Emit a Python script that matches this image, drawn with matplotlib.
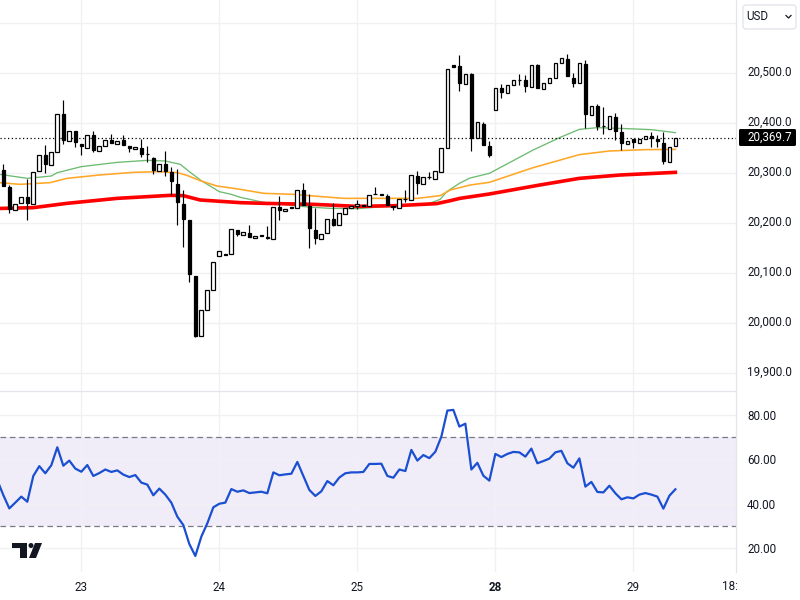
import matplotlib

matplotlib.use("Agg")

import matplotlib.pyplot as plt
import numpy as np
from matplotlib.patches import Circle, FancyBboxPatch, Polygon, Rectangle
from matplotlib.transforms import ScaledTranslation

INK = "#131722"
GRID = "#f0f1f4"
BORDER = "#e4e5ea"
BAND = "#f0edf9"
RSI_BLUE = "#1b4fd1"
LABEL_SIZE = 8.4

opens = [20305, 20272, 20226, 20240, 20251, 20238, 20304, 20335, 20316, 20342, 20417, 20364, 20383, 20357, 20350,
         20375, 20344, 20354, 20365, 20358, 20365, 20353, 20348, 20350, 20338, 20329, 20304, 20317, 20301, 20278,
         20238, 20205, 20094, 19974, 20026, 20066, 20134, 20138, 20138, 20186, 20176, 20180, 20170, 20175, 20172,
         20168, 20231, 20224, 20231, 20230, 20265, 20233, 20186, 20168, 20180, 20207, 20196, 20218, 20230, 20233,
         20235, 20234, 20257, 20257, 20254, 20231, 20230, 20248, 20246, 20293, 20278, 20292, 20288, 20302, 20350,
         20515, 20513, 20478, 20497, 20370, 20398, 20354, 20426, 20469, 20460, 20476, 20486, 20485, 20472, 20515,
         20468, 20480, 20490, 20520, 20527, 20489, 20479, 20517, 20416, 20433, 20394, 20388, 20412, 20381, 20358,
         20368, 20360, 20368, 20373, 20367, 20360, 20322, 20354]
highs = [20318, 20276, 20238, 20252, 20288, 20302, 20336, 20355, 20342, 20418, 20445, 20384, 20383, 20357, 20376,
         20383, 20354, 20366, 20377, 20364, 20375, 20353, 20352, 20367, 20353, 20332, 20318, 20343, 20312, 20307,
         20266, 20205, 20094, 20026, 20066, 20122, 20144, 20138, 20188, 20186, 20182, 20195, 20174, 20175, 20193,
         20232, 20253, 20228, 20231, 20266, 20280, 20257, 20229, 20178, 20208, 20240, 20220, 20230, 20234, 20246,
         20235, 20256, 20271, 20257, 20258, 20234, 20248, 20265, 20296, 20303, 20292, 20302, 20304, 20350, 20508,
         20515, 20535, 20498, 20500, 20402, 20402, 20363, 20470, 20477, 20476, 20486, 20498, 20495, 20516, 20518,
         20480, 20490, 20520, 20530, 20537, 20500, 20520, 20525, 20434, 20438, 20432, 20414, 20420, 20398, 20364,
         20368, 20368, 20374, 20382, 20375, 20382, 20352, 20370]
lows = [20273, 20220, 20226, 20240, 20205, 20238, 20304, 20300, 20316, 20342, 20357, 20364, 20352, 20335, 20350,
        20342, 20344, 20354, 20359, 20358, 20356, 20342, 20348, 20332, 20322, 20297, 20304, 20293, 20255, 20195,
        20152, 20082, 19972, 19974, 20026, 20066, 20134, 20136, 20138, 20173, 20176, 20172, 20170, 20174, 20168,
        20168, 20205, 20224, 20230, 20230, 20235, 20150, 20157, 20168, 20180, 20193, 20196, 20218, 20230, 20228,
        20234, 20234, 20257, 20256, 20235, 20225, 20230, 20242, 20246, 20257, 20278, 20288, 20288, 20302, 20350,
        20512, 20464, 20478, 20343, 20370, 20355, 20332, 20426, 20449, 20460, 20476, 20475, 20462, 20472, 20470,
        20468, 20480, 20490, 20520, 20494, 20472, 20479, 20390, 20416, 20385, 20377, 20388, 20365, 20345, 20358,
        20350, 20360, 20368, 20352, 20352, 20317, 20322, 20354]
closes = [20273, 20227, 20238, 20252, 20239, 20302, 20336, 20317, 20342, 20418, 20365, 20384, 20361, 20353, 20376,
          20345, 20354, 20366, 20359, 20364, 20356, 20350, 20352, 20337, 20337, 20305, 20318, 20304, 20284, 20242,
          20208, 20098, 19974, 20026, 20066, 20122, 20144, 20136, 20188, 20178, 20182, 20172, 20174, 20174, 20170,
          20232, 20225, 20228, 20230, 20266, 20235, 20190, 20170, 20178, 20208, 20196, 20220, 20230, 20234, 20237,
          20234, 20256, 20257, 20256, 20235, 20234, 20248, 20248, 20296, 20280, 20292, 20292, 20304, 20350, 20508,
          20512, 20480, 20498, 20370, 20402, 20355, 20335, 20470, 20461, 20476, 20486, 20486, 20474, 20516, 20470,
          20480, 20490, 20520, 20530, 20494, 20480, 20520, 20418, 20434, 20394, 20394, 20414, 20384, 20360, 20364,
          20362, 20368, 20374, 20370, 20364, 20324, 20352, 20369.7]

green_bars = [-1, 4, 8, 9, 13, 19, 24, 27, 29.5, 31, 33, 36, 38, 39.5, 43.4, 48.9, 51.7, 54.5, 59, 65.6, 71, 72.8,
              73.9, 76.1, 77.8, 81, 88.3, 92.8, 96, 99, 103.9, 108, 112]
green_ma = [20297, 20288.3, 20293, 20299.7, 20311.7, 20320.3, 20324.3, 20323, 20316.3, 20301.7, 20283.7, 20261.7,
            20256.3, 20250.3, 20240.3, 20233, 20230.3, 20228.3, 20227.7, 20233.7, 20238.3, 20246.3, 20261.7, 20279,
            20289, 20298.3, 20345, 20370.3, 20386.3, 20389.7, 20387.7, 20385.7, 20379.7]
orange_bars = [-1, 2.8, 7.8, 10.6, 16, 21.7, 25.6, 29, 30.6, 32.8, 35.6, 39.5, 43.4, 48.4, 51.7, 56.7, 65.6, 69, 72.8,
               74.5, 77.8, 81, 88.3, 96, 101, 107, 112]
orange_ma = [20280, 20276.3, 20279.7, 20288.3, 20295, 20300.3, 20301.7, 20299.7, 20294.3, 20283.7, 20273, 20266.3,
             20258.3, 20256.3, 20253, 20248.3, 20248.3, 20248.3, 20253.7, 20265, 20275, 20280.3, 20309.7, 20335.7,
             20343, 20345.7, 20346.3]
red_bars = [-1, 5, 10.6, 19, 27.8, 30, 32.8, 39.5, 43.4, 51.7, 59, 65.6, 72.2, 74.5, 76.1, 81, 89.4, 96, 102.8, 112]
red_ma = [20228, 20229.7, 20238.3, 20248.3, 20254.3, 20253.7, 20245, 20239.7, 20238.3, 20236.3, 20232.3, 20233.7,
          20237.7, 20243.7, 20248.3, 20257, 20275, 20288.3, 20295, 20300.3]

# first value belongs to the bar just off the left edge
rsi = [50.7, 44, 38, 40.6, 43.3, 41, 52.6, 57, 53.8, 57.4, 65.5, 57.2, 59.5, 55.9, 54.5, 57.5, 52.6, 53.9, 55.5, 54.4,
       55.1, 53.2, 52.1, 53, 49.6, 48.7, 43.9, 46.9, 44.2, 40.6, 34.3, 30.5, 22, 16.6, 25.3, 31.3, 38.5, 40.1, 40.6,
       46.7, 45.5, 46.1, 44.9, 45.2, 45.5, 44.8, 54.2, 52.9, 53.3, 53.6, 58.9, 52.6, 46.3, 43.6, 45.7, 50.3, 48.4,
       51.9, 53.8, 54.2, 54.2, 54.4, 58, 58, 58.1, 52.6, 51.8, 55.5, 54.8, 64.3, 59.5, 62, 60.6, 63.5, 70.3, 82, 82.3,
       74.8, 76.1, 55.5, 58.5, 52.7, 50.5, 62.5, 61.1, 62.5, 63.4, 63.2, 61.3, 64.9, 58.3, 59.3, 60.4, 63.2, 63.9,
       58.3, 56.3, 60.5, 47.8, 49.9, 45.4, 45.2, 48.2, 44.8, 42.1, 43, 42.5, 44.2, 44.9, 44.2, 43.3, 37.9, 43.7, 46.6]

day_bars = [13, 36, 59, 82, 105]
day_labels = ["23", "24", "25", "28", "29"]
price_ticks = [19900, 20000, 20100, 20200, 20300, 20400, 20500]
grid_prices = [19900, 20000, 20100, 20200, 20300, 20400, 20500, 20600]
rsi_ticks = [20, 40, 60, 80]
last_price = 20369.7

plt.rcParams["font.family"] = ["Roboto", "DejaVu Sans"]

fig = plt.figure(figsize=(8, 6), dpi=100, facecolor="white")
ax = fig.add_axes([0, 1 - 391 / 600, 736 / 800, 391 / 600])
ax_rsi = fig.add_axes([0, 1 - 572 / 600, 736 / 800, 181 / 600])

bars = np.arange(len(opens))
o = np.array(opens, dtype=float)
c = np.array(closes, dtype=float)

for a in (ax, ax_rsi):
    a.set_xlim(-0.55, 122.1)
    a.set_xticks(day_bars)
    a.grid(True, axis="both", color=GRID, linewidth=1.0)
    a.set_axisbelow(True)
    a.yaxis.tick_right()
    a.tick_params(length=0, labelsize=LABEL_SIZE, labelcolor=INK)
    for side in ("left", "bottom"):
        a.spines[side].set_visible(False)
    a.spines["right"].set_color(BORDER)
    a.spines["top"].set_color(BORDER)
    a.spines["right"].set_linewidth(0.9)
    a.spines["top"].set_linewidth(0.9)

ax.set_ylim(19863, 20645)
ax.set_yticks(grid_prices)
ax.set_yticklabels(["" if p not in price_ticks else f"{p:,.1f}" for p in grid_prices], ha="left")
ax.tick_params(axis="y", pad=8)
ax.tick_params(axis="x", labelbottom=False)
ax.spines["top"].set_visible(False)

# price labels sit a little above their grid lines
lift = ScaledTranslation(0, 1.5 / 72, fig.dpi_scale_trans)
for label in ax.get_yticklabels():
    label.set_transform(label.get_transform() + lift)

ax.plot(green_bars, green_ma, color="#6dbb70", linewidth=0.95, zorder=2)
ax.plot(orange_bars, orange_ma, color="#ffa726", linewidth=1.15, zorder=2)
ax.plot(red_bars, red_ma, color="#ff0000", linewidth=2.6, zorder=2)
ax.axhline(last_price, color="black", linewidth=0.9, linestyle=(0, (1, 2)), zorder=2)

ax.vlines(bars, lows, highs, color="black", linewidth=0.85, zorder=3)
body_bottom = np.minimum(o, c)
body_height = np.abs(c - o)
face = ["white" if up else "black" for up in c >= o]
widths = [0.62 if up else 0.5 for up in c >= o]
ax.bar(bars, body_height, bottom=body_bottom, width=widths, color=face, edgecolor="black", linewidth=0.9, zorder=4)

ax_rsi.set_ylim(9.4, 90.8)
ax_rsi.set_yticks(rsi_ticks)
ax_rsi.set_yticklabels([f"{v:.2f}" for v in rsi_ticks], ha="left")
ax_rsi.tick_params(axis="y", pad=8)
ax_rsi.set_xticklabels(day_labels)
ax_rsi.tick_params(axis="x", pad=6.5)
ax_rsi.get_xticklabels()[3].set_fontweight("bold")
ax_rsi.axhspan(30, 70, color=BAND, linewidth=0, zorder=0.5)
ax_rsi.axhline(70, color="#787b86", linewidth=0.9, linestyle=(0, (4.5, 3)), zorder=2)
ax_rsi.axhline(30, color="#787b86", linewidth=0.9, linestyle=(0, (4.5, 3)), zorder=2)
ax_rsi.plot(np.arange(len(rsi)) - 1, rsi, color=RSI_BLUE, linewidth=1.6, zorder=3)

# overlay in pixel coordinates for the widgets around the chart
top = fig.add_axes([0, 0, 1, 1], facecolor="none", zorder=10)
top.set_xlim(0, 800)
top.set_ylim(600, 0)
top.axis("off")

top.add_patch(FancyBboxPatch((743, 5), 53, 24, boxstyle="round,pad=0,rounding_size=3",
                             facecolor="white", edgecolor="#e0e3eb", linewidth=0.9))
top.text(746, 17, "USD", fontsize=LABEL_SIZE, color=INK, va="center", ha="left")
top.plot([786, 788.5, 791], [15.5, 18, 15.5], color=INK, linewidth=0.9)

top.add_patch(FancyBboxPatch((739, 129), 57, 17, boxstyle="round,pad=0,rounding_size=1.5",
                             facecolor="black", edgecolor="black", linewidth=0))
top.text(747, 137, f"{last_price:,.1f}", fontsize=LABEL_SIZE, color="white", va="center", ha="left")

top.text(722, 586, "18:", fontsize=LABEL_SIZE, color=INK, va="center", ha="left")

# TradingView mark
top.add_patch(Rectangle((12, 543), 15, 5, facecolor=INK, linewidth=0))
top.add_patch(Rectangle((20, 543), 7, 15, facecolor=INK, linewidth=0))
top.add_patch(Circle((31, 545.5), 2.5, facecolor=INK, linewidth=0))
top.add_patch(Polygon([(35, 543), (42, 543), (36, 558), (29, 558)], facecolor=INK, linewidth=0))

fig.savefig("out.png", dpi=100, facecolor="white")
